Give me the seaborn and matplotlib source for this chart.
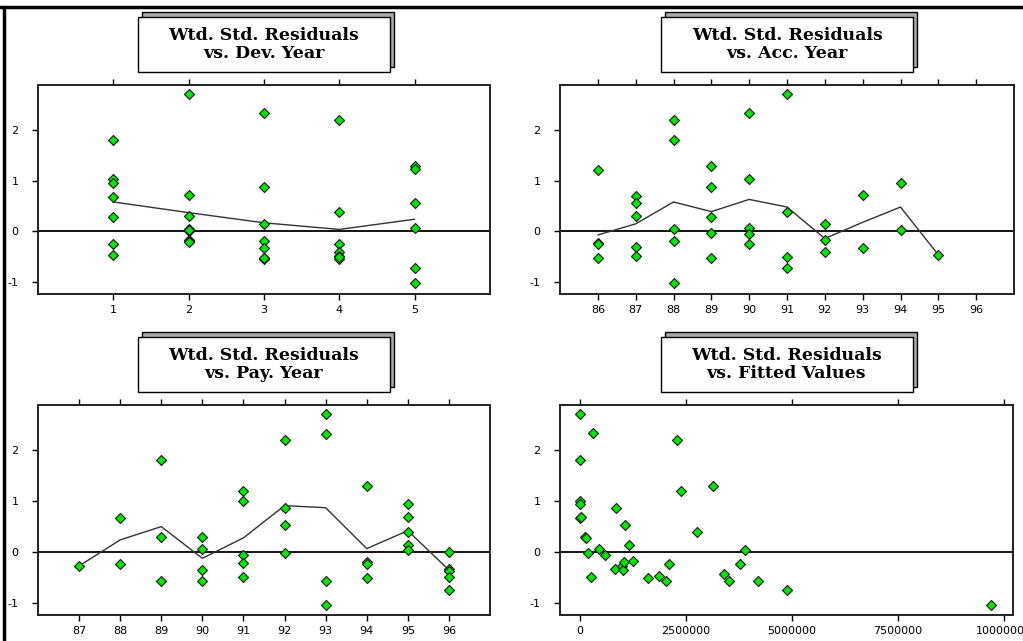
import numpy as np
import pandas as pd
import matplotlib
matplotlib.use("Agg")
import matplotlib.pyplot as plt
from matplotlib.patches import Rectangle
from matplotlib.lines import Line2D
from matplotlib.ticker import FixedLocator, FuncFormatter
import seaborn as sns

# ---------------- data ----------------
dev_x = [1, 1, 1, 1, 1, 1, 1,
         2, 2, 2, 2, 2, 2, 2, 2, 2,
         3, 3, 3, 3, 3, 3, 3, 3,
         4, 4, 4, 4, 4, 4, 4,
         5, 5, 5, 5, 5, 5]
dev_y = [1.79, 1.03, 0.95, 0.68, 0.28, -0.24, -0.46,
         2.70, 0.71, 0.31, 0.04, 0.00, 0.02, -0.16, -0.18, -0.21,
         2.32, 0.87, 0.15, -0.19, -0.33, -0.52, -0.54, -0.53,
         2.19, 0.39, -0.24, -0.41, -0.49, -0.54, -0.50,
         1.29, 1.22, 0.55, 0.07, -0.72, -1.02]
dev_line_x = [1, 2, 3, 4, 5]
dev_line_y = [0.58, 0.37, 0.17, 0.04, 0.24]

acc_x = [86, 86, 86, 86,
         87, 87, 87, 87, 87,
         88, 88, 88, 88, 88,
         89, 89, 89, 89, 89,
         90, 90, 90, 90, 90,
         91, 91, 91, 91,
         92, 92, 92,
         93, 93,
         94, 94,
         95]
acc_y = [1.21, -0.23, -0.24, -0.53,
         0.69, 0.55, 0.31, -0.31, -0.48,
         2.19, 1.79, 0.05, -0.19, -1.01,
         1.29, 0.87, 0.28, -0.03, -0.53,
         2.32, 1.03, 0.07, -0.05, -0.24,
         2.70, 0.39, -0.50, -0.72,
         0.15, -0.16, -0.40,
         0.71, -0.32,
         0.95, 0.03,
         -0.46]
acc_line_x = [86, 87, 88, 89, 90, 91, 92, 93, 94, 95]
acc_line_y = [-0.07, 0.15, 0.58, 0.39, 0.63, 0.48, -0.14, 0.18, 0.48, -0.46]

pay_x = [87,
         88, 88,
         89, 89, 89,
         90, 90, 90, 90,
         91, 91, 91, 91, 91,
         92, 92, 92, 92,
         93, 93, 93, 93,
         94, 94, 94, 94,
         95, 95, 95, 95, 95,
         96, 96, 96, 96, 96]
pay_y = [-0.27,
         0.66, -0.24,
         1.80, 0.29, -0.56,
         0.29, 0.06, -0.35, -0.56,
         1.19, 1.00, -0.06, -0.22, -0.48,
         2.20, 0.87, 0.53, -0.02,
         2.70, 2.32, -0.56, -1.03,
         1.29, -0.19, -0.24, -0.50,
         0.95, 0.69, 0.39, 0.14, 0.05,
         0.00, -0.33, -0.37, -0.48, -0.74]
pay_line_x = [87, 88, 89, 90, 91, 92, 93, 94, 95, 96]
pay_line_y = [-0.27, 0.24, 0.50, -0.12, 0.28, 0.91, 0.87, 0.07, 0.42, -0.35]

fit_x = [0, 300000, 0, 0, 0, 0, 30000, 120000, 140000, 200000,
         250000, 460000, 580000, 860000, 830000, 990000, 1020000, 1050000,
         1060000, 1150000, 1240000, 1610000, 1860000, 2040000, 2110000,
         2300000, 2390000, 2750000, 3130000, 3400000, 3510000, 3780000,
         3880000, 4190000, 4870000, 9700000]
fit_y = [2.70, 2.33, 1.80, 1.01, 0.95, 0.66, 0.69, 0.29, 0.28, -0.01,
         -0.48, 0.06, -0.05, 0.87, -0.33, -0.27, -0.35, -0.19,
         0.54, 0.14, -0.18, -0.50, -0.47, -0.56, -0.24,
         2.20, 1.19, 0.40, 1.30, -0.42, -0.56, -0.24,
         0.05, -0.56, -0.74, -1.03]

titles = [["Wtd. Std. Residuals", "vs. Dev. Year"],
          ["Wtd. Std. Residuals", "vs. Acc. Year"],
          ["Wtd. Std. Residuals", "vs. Pay. Year"],
          ["Wtd. Std. Residuals", "vs. Fitted Values"]]
y_ticks = [-1, 0, 1, 2]
dev_ticks = [1, 2, 3, 4, 5]
acc_ticks = [86, 87, 88, 89, 90, 91, 92, 93, 94, 95, 96]
pay_ticks = [87, 88, 89, 90, 91, 92, 93, 94, 95, 96]
fit_ticks = [0, 2500000, 5000000, 7500000, 10000000]

# ---------------- figure ----------------
sns.set_style("white")
W, H = 1023, 641
fig = plt.figure(figsize=(W / 100, H / 100), dpi=100)
fig.patch.set_facecolor("white")

def ax_at(x0, y0, x1, y1):
    return fig.add_axes([x0 / W, 1 - y1 / H, (x1 - x0) / W, (y1 - y0) / H])

boxes = [(38, 85, 490, 294), (560, 85, 1014, 294),
         (38, 405, 490, 615), (560, 405, 1013, 615)]
axes = [ax_at(*b) for b in boxes]

GREEN = "#00e800"
mkw = dict(marker="D", s=26, color=GREEN, edgecolor="#1a1a1a", linewidth=0.8, zorder=4)

panels = [
    (pd.DataFrame({"x": dev_x, "y": dev_y}),
     pd.DataFrame({"x": dev_line_x, "y": dev_line_y}), dev_ticks, (0, 6)),
    (pd.DataFrame({"x": acc_x, "y": acc_y}),
     pd.DataFrame({"x": acc_line_x, "y": acc_line_y}), acc_ticks, (85, 97)),
    (pd.DataFrame({"x": pay_x, "y": pay_y}),
     pd.DataFrame({"x": pay_line_x, "y": pay_line_y}), pay_ticks, (86, 97)),
    (pd.DataFrame({"x": fit_x, "y": fit_y}), None, fit_ticks, (-470000, 10210000)),
]

for ax, (pts, line, xt, xl) in zip(axes, panels):
    ax.axhline(0, color="black", lw=1.3, zorder=2)
    if line is not None:
        sns.lineplot(data=line, x="x", y="y", ax=ax, color="#333333",
                     lw=1.0, zorder=3, estimator=None)
    sns.scatterplot(data=pts, x="x", y="y", ax=ax, legend=False, **mkw)
    ax.set_xlim(*xl)
    ax.set_ylim(-1.23, 2.88)
    ax.xaxis.set_major_locator(FixedLocator(xt))
    ax.xaxis.set_major_formatter(FuncFormatter(lambda v, p: "%d" % v))
    ax.yaxis.set_major_locator(FixedLocator(y_ticks))
    ax.yaxis.set_major_formatter(FuncFormatter(lambda v, p: "%d" % v))
    ax.set_xlabel("")
    ax.set_ylabel("")
    ax.tick_params(axis="x", which="both", direction="out", length=4, width=1,
                   color="black", labelcolor="black", top=True, bottom=True,
                   labeltop=False, labelbottom=True, labelsize=8, pad=4)
    ax.tick_params(axis="y", which="both", direction="out", length=4, width=1,
                   color="black", labelcolor="black", left=True, right=False,
                   labelsize=8, pad=10)
    for sp in ax.spines.values():
        sp.set_color("#222222")
        sp.set_linewidth(1.4)
    ax.set_facecolor("white")

# title boxes with shadow
for (x0, y0, x1, y1), (l1, l2) in zip(boxes, titles):
    cx = (x0 + x1) / 2
    bw, bh = 252, 55
    bx0 = cx - bw / 2
    by_top = y0 - 68
    # shadow
    fig.add_artist(Rectangle(((bx0 + 4) / W, 1 - (by_top - 5 + bh) / H), bw / W, bh / H,
                             transform=fig.transFigure, facecolor="#a8a8a8",
                             edgecolor="black", lw=1.0, zorder=5))
    fig.add_artist(Rectangle((bx0 / W, 1 - (by_top + bh) / H), bw / W, bh / H,
                             transform=fig.transFigure, facecolor="white",
                             edgecolor="black", lw=1.0, zorder=6))
    fig.text(cx / W, 1 - (by_top + 18) / H, l1, ha="center", va="center",
             family="DejaVu Serif", weight="bold", fontsize=12.5, color="black",
             zorder=7)
    fig.text(cx / W, 1 - (by_top + 36) / H, l2, ha="center", va="center",
             family="DejaVu Serif", weight="bold", fontsize=12.5, color="black",
             zorder=7)

# figure frame lines (top and left)
fig.add_artist(Line2D([0, 1], [1 - 7 / H, 1 - 7 / H], transform=fig.transFigure,
                      color="black", lw=2.5))
fig.add_artist(Line2D([4 / W, 4 / W], [0, 1 - 7 / H], transform=fig.transFigure,
                      color="black", lw=2.5))

fig.savefig("out.png", dpi=100)
